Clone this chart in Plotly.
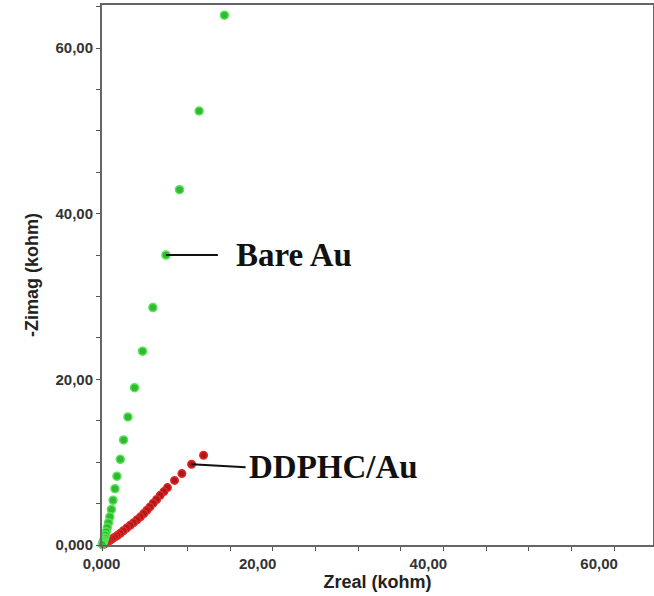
import plotly.graph_objects as go

# Bare Au (green) Nyquist points, kohm
bare_x = [14.34, 11.38, 9.08, 7.49, 5.96, 4.75, 3.81, 3.04, 2.53, 2.14, 1.75, 1.52, 1.29,
          1.10, 0.92, 0.76, 0.62, 0.50, 0.40, 0.31, 0.23, 0.16, 0.10, 0.06, 0.03]
bare_y = [63.97, 52.40, 42.90, 35.00, 28.67, 23.40, 19.00, 15.46, 12.68, 10.35, 8.30, 6.80, 5.40,
          4.30, 3.40, 2.70, 2.10, 1.60, 1.20, 0.85, 0.60, 0.40, 0.25, 0.14, 0.06]

# DDPHC/Au (red) Nyquist points, kohm
ddphc_x = [11.90, 10.50, 9.36, 8.50, 7.67, 7.25, 6.82, 6.40, 6.00, 5.62, 5.26, 4.90, 4.50, 4.10,
           3.70, 3.31, 2.90, 2.50, 2.15, 1.80, 1.50, 1.20, 0.95, 0.72, 0.52, 0.36, 0.24, 0.14, 0.07]
ddphc_y = [10.83, 9.75, 8.62, 7.80, 6.93, 6.45, 6.00, 5.50, 5.05, 4.60, 4.19, 3.80, 3.40, 3.05,
           2.70, 2.38, 2.05, 1.72, 1.42, 1.15, 0.95, 0.74, 0.56, 0.41, 0.29, 0.19, 0.12, 0.07, 0.03]

tick_vals = [0, 20, 40, 60]
x_tick_text = ["<b>" + "\u00a0" * 7 + "0,000</b>", "<b>20,00</b>", "<b>40,00</b>", "<b>60,00</b>"]
y_tick_text = ["<b>0,000</b>", "<b>20,00</b>", "<b>40,00</b>", "<b>60,00</b>"]
series_labels = ["Bare Au", "DDPHC/Au"]

fig = go.Figure()
fig.add_trace(go.Scatter(
    x=ddphc_x, y=ddphc_y, mode="markers", name=series_labels[1],
    marker=dict(size=7.5, color="#b01818", line=dict(color="#e02828", width=1.5)),
    cliponaxis=False))
fig.add_trace(go.Scatter(
    x=bare_x, y=bare_y, mode="markers", name=series_labels[0],
    marker=dict(size=8, color="#33b833", line=dict(color="#55e655", width=1.5)),
    cliponaxis=False))

ann_font = dict(family="Liberation Serif, Times New Roman, serif", size=33, color="#111111")
fig.add_annotation(x=bare_x[3], y=bare_y[3], text="<b>" + series_labels[0] + "</b>",
                   showarrow=True, arrowhead=0, arrowwidth=2, arrowcolor="#111111",
                   ax=52, ay=0, xanchor="left", borderpad=17, font=ann_font)
fig.add_annotation(x=ddphc_x[1], y=ddphc_y[1], text="<b>" + series_labels[1] + "</b>",
                   showarrow=True, arrowhead=0, arrowwidth=2, arrowcolor="#111111",
                   ax=54, ay=3, xanchor="left", borderpad=2, font=ann_font)

axis_common = dict(
    showgrid=False, zeroline=False, showline=True, linecolor="#666666", linewidth=2,
    mirror=True, ticks="outside", ticklen=4, tickcolor="#555555", tickwidth=1,
    tickvals=tick_vals, automargin=False,
    minor=dict(dtick=5, ticks="outside", ticklen=4, tickcolor="#555555", tickwidth=1),
    tickfont=dict(family="Liberation Sans, Arial, sans-serif", size=15, color="#333333"),
)

fig.update_xaxes(**axis_common, range=[0, 64.56], ticktext=x_tick_text, ticklabelshift=-15,
                 title=dict(text="<b>Zreal (kohm)</b>", standoff=4,
                            font=dict(family="Liberation Sans, Arial, sans-serif", size=18, color="#222222")))
fig.update_yaxes(**axis_common, range=[0, 65.2], ticktext=y_tick_text,
                 title=dict(text="<b>-Zimag (kohm)</b>", standoff=12,
                            font=dict(family="Liberation Sans, Arial, sans-serif", size=18, color="#222222")))

fig.update_layout(
    width=654, height=596,
    margin=dict(l=102, r=1, t=5, b=51),
    paper_bgcolor="white", plot_bgcolor="white",
    showlegend=False,
)

fig.write_html("out.html", config={"displayModeBar": False},
               post_script="document.body.style.margin='0';document.body.style.overflow='hidden';")
